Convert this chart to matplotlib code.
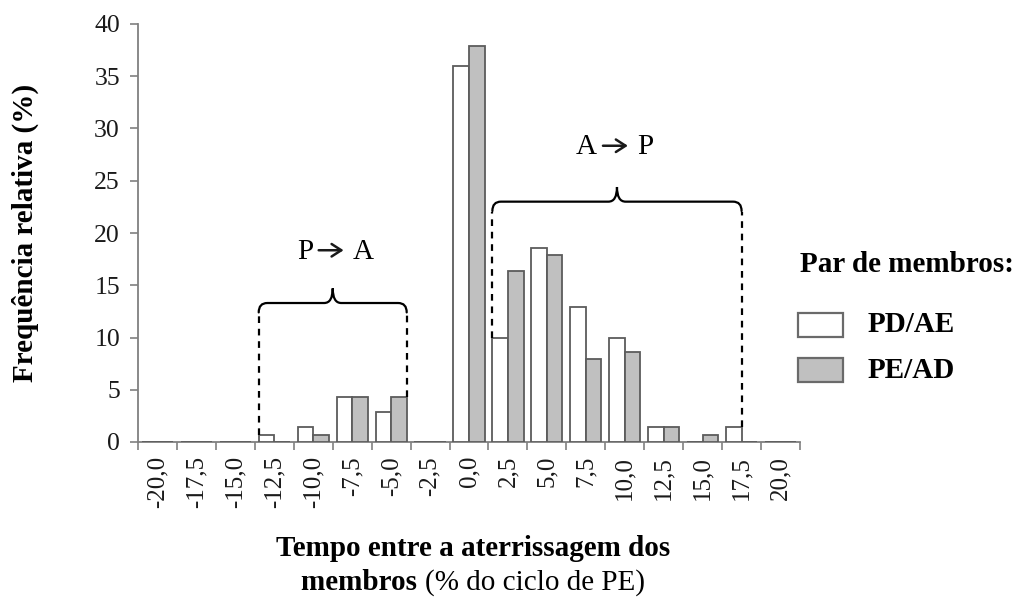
import matplotlib
matplotlib.use("Agg")
import matplotlib.pyplot as plt
import numpy as np
from matplotlib.patches import Rectangle, PathPatch
from matplotlib.path import Path

# categories (time between landings, % of PE cycle)
categories = ["-20,0", "-17,5", "-15,0", "-12,5", "-10,0", "-7,5", "-5,0",
              "-2,5", "0,0", "2,5", "5,0", "7,5", "10,0", "12,5", "15,0",
              "17,5", "20,0"]
pd_ae = [0, 0, 0, 0.7, 1.4, 4.3, 2.9, 0, 36.0, 10.0, 18.6, 12.9, 10.0,
         1.4, 0, 1.4, 0]
pe_ad = [0, 0, 0, 0, 0.7, 4.3, 4.3, 0, 37.9, 16.4, 17.9, 7.9, 8.6,
         1.4, 0.7, 0, 0]
yticks = [0, 5, 10, 15, 20, 25, 30, 35, 40]

SERIF = ["Liberation Serif", "DejaVu Serif"]
plt.rcParams["font.family"] = SERIF

BAR_W = 0.4
EDGE = "#5c5c5c"
GRAY = "#c0c0c0"
AXC = "#808080"
DASH = (0, (3, 2.6))


def brace(ax, x0, x1, y, tip, drop, rx=0.22):
    """curly brace over a range, in data coordinates"""
    xc = (x0 + x1) / 2
    verts = [(x0, y - drop), (x0, y), (x0 + rx, y),
             (xc - rx, y), (xc, y), (xc, y + tip),
             (xc, y), (xc + rx, y),
             (x1 - rx, y), (x1, y), (x1, y - drop)]
    codes = [Path.MOVETO, Path.CURVE3, Path.CURVE3,
             Path.LINETO, Path.CURVE3, Path.CURVE3,
             Path.CURVE3, Path.CURVE3,
             Path.LINETO, Path.CURVE3, Path.CURVE3]
    ax.add_patch(PathPatch(Path(verts, codes), fill=False, lw=1.6,
                           color="black", capstyle="round"))


def arrow_label(ax, xc, y, left, right):
    """'left -> right' label with an open-headed arrow"""
    ax.text(xc - 0.51, y, left, ha="right", va="center", fontsize=21)
    ax.text(xc + 0.51, y, right, ha="left", va="center", fontsize=21)
    ax.annotate("", xy=(xc + 0.28, y + 0.15), xytext=(xc - 0.36, y + 0.15),
                arrowprops=dict(arrowstyle="->,head_length=0.7,head_width=0.45",
                                lw=1.8, color="#1a1a1a",
                                shrinkA=0, shrinkB=0))


def main():
    fig = plt.figure(figsize=(10.25, 5.97), dpi=100)
    W, H = 1025, 597
    ax = fig.add_axes([138 / W, 1 - 442 / H, (800 - 138) / W, (442 - 24) / H])

    x = np.arange(len(categories))
    ax.bar(x - BAR_W / 2, pd_ae, BAR_W, color="white", edgecolor=EDGE,
           linewidth=1.3, zorder=3)
    ax.bar(x + BAR_W / 2, pe_ad, BAR_W, color=GRAY, edgecolor=EDGE,
           linewidth=1.3, zorder=3)

    ax.set_xlim(-0.5, len(categories) - 0.5)
    ax.set_ylim(0, 40)
    ax.set_yticks(yticks)
    ax.set_yticklabels([str(v) for v in yticks])
    ax.set_xticks(np.arange(len(categories) + 1) - 0.5)
    ax.set_xticklabels([])
    ax.set_xticks(x, minor=True)
    ax.set_xticklabels(categories, minor=True, rotation=90, va="top")
    ax.tick_params(axis="x", which="major", length=6, width=1.2, color=AXC)
    ax.tick_params(axis="x", which="minor", length=0, pad=10,
                   labelsize=18, labelcolor="#1a1a1a")
    ax.tick_params(axis="y", length=5.5, width=1.2, color=AXC, pad=7.5,
                   labelsize=18.5, labelcolor="#1a1a1a")
    for s in ["top", "right"]:
        ax.spines[s].set_visible(False)
    for s in ["left", "bottom"]:
        ax.spines[s].set_color(AXC)
        ax.spines[s].set_linewidth(1.3)
    ax.spines["left"].set_zorder(5)

    # P -> A bracket
    pa_l, pa_r = 3 - BAR_W, 6 + BAR_W
    ax.plot([pa_l, pa_l], [pd_ae[3], 12.4], ls=DASH, lw=1.6,
            color="black", zorder=4)
    ax.plot([pa_r, pa_r], [pe_ad[6], 12.4], ls=DASH, lw=1.6,
            color="black", zorder=4)
    brace(ax, pa_l, pa_r, 13.3, 1.4, 0.9)
    arrow_label(ax, (pa_l + pa_r) / 2, 18.2, "P", "A")

    # A -> P bracket
    ap_l, ap_r = 9 - BAR_W, 15
    ax.plot([ap_l, ap_l], [pd_ae[9], 22.0], ls=DASH, lw=1.6,
            color="black", zorder=4)
    ax.plot([ap_r, ap_r], [pd_ae[15], 22.0], ls=DASH, lw=1.6,
            color="black", zorder=4)
    brace(ax, ap_l, ap_r, 23.0, 1.4, 0.9)
    arrow_label(ax, (ap_l + ap_r) / 2, 28.2, "A", "P")

    # y label
    fig.text(25 / W, 1 - 233 / H, "Frequência relativa (%)", rotation=90,
             ha="center", va="center", fontsize=21, fontweight="bold")

    # x label (two lines, second mixes bold and regular)
    fig.text(473 / W, 1 - 548 / H, "Tempo entre a aterrissagem dos",
             ha="center", va="center", fontsize=21, fontweight="bold")
    t1 = fig.text(0, 1 - 583 / H, "membros ", ha="left", va="center",
                  fontsize=21, fontweight="bold")
    t2 = fig.text(0, 1 - 583 / H, "(% do ciclo de PE)", ha="left",
                  va="center", fontsize=21)
    r = fig.canvas.get_renderer()
    w1 = t1.get_window_extent(r).width
    w2 = t2.get_window_extent(r).width
    start = 473 - (w1 + w2) / 2
    t1.set_x(start / W)
    t2.set_x((start + w1) / W)

    # legend
    fig.text(800 / W, 1 - 265 / H, "Par de membros:", ha="left",
             va="center", fontsize=21, fontweight="bold")
    labels = ["PD/AE", "PE/AD"]
    colors = ["white", GRAY]
    for i, (lab, c) in enumerate(zip(labels, colors)):
        yc = 325 + 45 * i
        fig.patches.append(Rectangle((798 / W, 1 - (yc + 12) / H), 45 / W,
                                     24 / H, transform=fig.transFigure,
                                     facecolor=c, edgecolor="#6a6a6a",
                                     linewidth=1.6))
        fig.text(868 / W, 1 - yc / H, lab, ha="left", va="center",
                 fontsize=21, fontweight="bold")

    fig.savefig("out.png", dpi=100)


if __name__ == "__main__":
    main()
